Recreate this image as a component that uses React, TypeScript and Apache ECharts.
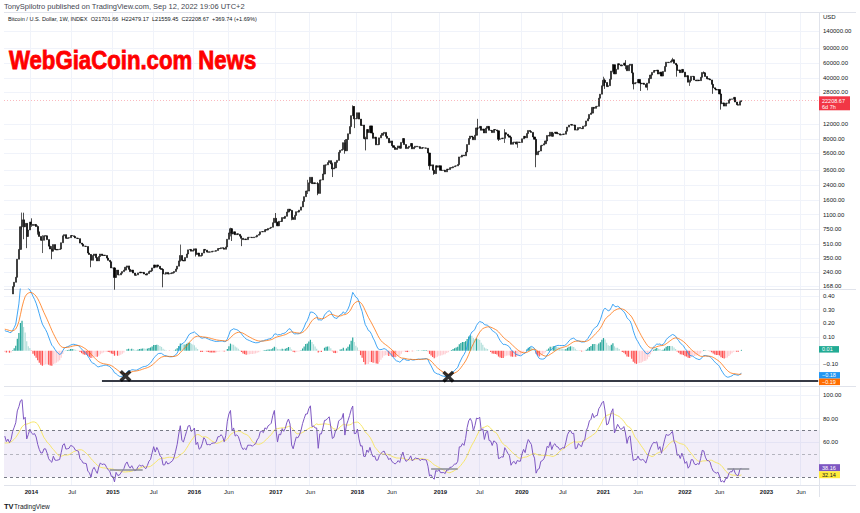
import React, { useEffect, useRef } from "react";
import * as echarts from "echarts";

// ---------- weekly closes (weeks start Monday), first week 2013-01-07 ----------
const FIRST_WEEK = "2013-01-07";
const VIEW_START = "2013-09-09";
const VIEW_END = "2023-08-21";

const CLOSE_2013 = [
  14.2, 15.7, 17.5, 20.4,
  23.7, 27.0, 29.8, 34.5,
  46.9, 47.0, 69.0, 93.0,
  162, 90, 120, 134, 112,
  115, 122, 131, 129,
  107, 101, 108, 95,
  76, 94, 90, 96, 105,
  106, 112, 120, 132,
  127, 136, 125, 133, 126,
  136, 165, 185, 211,
  340, 440, 800, 960,
  800, 875, 620, 735, 905,
];
const CLOSE_2014 = [
  850, 830, 850, 805,
  700, 620, 560, 560,
  630, 630, 570, 480, 445,
  420, 500, 440, 435,
  440, 445, 525, 630,
  650, 590, 595, 600, 635,
  630, 620, 595, 590,
  585, 520, 505, 480,
  478, 475, 400, 385, 330,
  375, 390, 355, 325,
  365, 390, 375, 378,
  375, 350, 330, 318, 270,
];
const CLOSE_2015 = [
  270, 210, 255, 225,
  225, 235, 245, 255,
  275, 285, 260, 245, 255,
  236, 222, 225, 237,
  242, 237, 240, 230,
  224, 233, 245, 250, 270,
  292, 275, 292, 282,
  265, 260, 230, 230, 240,
  230, 232, 235, 238,
  246, 262, 283, 325,
  375, 330, 325, 355, 390,
  435, 440, 420, 430,
];
const CLOSE_2016 = [
  447, 385, 400, 368,
  375, 400, 440, 432, 410,
  412, 410, 418, 420,
  420, 428, 450, 450,
  460, 455, 442, 470, 575,
  680, 760, 660, 700,
  650, 665, 655, 625,
  590, 570, 580, 570, 605,
  605, 605, 600, 610,
  615, 640, 655, 700, 705,
  700, 740, 735, 765,
  775, 790, 890, 1000,
];
const CLOSE_2017 = [
  905, 820, 925, 920, 1020,
  1000, 1055, 1180, 1270,
  1230, 1020, 970, 1080,
  1190, 1180, 1240, 1350,
  1560, 1770, 2050, 2050, 2550,
  2950, 2500, 2550, 2500,
  2500, 1930, 2750, 2750, 3220,
  4070, 4100, 4350, 4580,
  4200, 3680, 3780, 4380,
  4610, 5690, 6010, 6140, 7360,
  5950, 8000, 9300, 11250,
  15000, 19100, 13800, 13880,
];
const CLOSE_2018 = [
  16200, 13700, 11600, 11700, 8200,
  8100, 10400, 9600, 11450,
  9500, 8250, 8500, 6950,
  7000, 8350, 8950, 9400, 9650,
  8700, 8250, 7350, 7700,
  6800, 6500, 6150, 6380,
  6750, 6350, 7400, 8200, 7000,
  6300, 6500, 6700, 7200,
  6250, 6500, 6700, 6600,
  6600, 6300, 6450, 6400, 6400,
  6350, 5600, 4000, 4100,
  3550, 3250, 4000, 3850, 4000,
];
const CLOSE_2019 = [
  3550, 3540, 3550, 3410,
  3660, 3620, 3800, 3800,
  3900, 3980, 3990, 4130,
  5050, 5060, 5300, 5200, 5750,
  7000, 8200, 8750, 8550,
  7950, 8950, 10850, 10800,
  11300, 10200, 10550, 9500, 10800,
  11300, 10200, 10150, 9600,
  10400, 10300, 10050, 8050, 8150,
  8300, 8250, 9550, 9200,
  8800, 8500, 7050, 7400,
  7500, 7100, 7500, 7400, 7400,
];
const CLOSE_2020 = [
  8150, 8700, 8350, 9350,
  10150, 9900, 9650, 8550,
  8050, 5350, 5800, 5900, 6800,
  6900, 7150, 7700, 8900,
  8750, 9700, 8700, 9450,
  9700, 9350, 9300, 9000, 9100,
  9250, 9200, 9950, 11100,
  11700, 11900, 11650, 11700, 10250,
  10330, 10950, 10750, 10650,
  11350, 11500, 13050, 13800,
  15500, 16050, 18650, 18200, 19150,
  19200, 23800, 26450, 33000,
];
const CLOSE_2021 = [
  38200, 36000, 32300, 33100,
  39200, 48600, 57500, 45200,
  51000, 59000, 57300, 55800, 57000,
  60000, 56200, 49100, 56600,
  58300, 46400, 34700, 35700, 35800,
  39000, 35500, 34700, 35300,
  34250, 31800, 35400, 39900,
  43800, 47000, 49300, 48900, 49900,
  45000, 47300, 42700, 48200,
  54900, 61500, 60900, 61300,
  63300, 65500, 59700, 57300, 49400,
  50100, 46700, 50800, 47300,
];
const CLOSE_2022 = [
  41800, 43100, 36300, 37900, 42400,
  42200, 38400, 37700, 38400,
  37800, 41300, 46800, 46400,
  42200, 39700, 39500, 38500,
  34300, 31300, 30300, 29450, 29900,
  26600, 20550, 21000, 19300,
  20850, 20800, 22600, 23300,
  23200, 24300, 21500, 20050, 19800,
  21701.66, 22208.67,
];

// sparse week extremes [week, high, low]
const WICKS: [string, number, number][] = [
  ["2013-11-25", 1163, 740], ["2013-12-02", 1160, 576], ["2013-12-16", 880, 455],
  ["2014-01-06", 1000, 800], ["2014-02-03", 830, 650], ["2014-02-24", 640, 400],
  ["2014-04-07", 480, 340], ["2014-09-29", 390, 275], ["2015-01-12", 275, 152],
  ["2015-08-17", 262, 162], ["2015-11-02", 500, 320], ["2016-01-11", 450, 365],
  ["2016-06-13", 780, 620], ["2016-06-20", 770, 550], ["2016-08-01", 630, 480],
  ["2017-01-02", 1150, 880], ["2017-03-13", 1250, 950], ["2017-05-22", 2760, 1900],
  ["2017-07-10", 2600, 1840], ["2017-09-11", 4350, 2970], ["2017-11-06", 7900, 5500],
  ["2017-12-11", 19700, 15000], ["2017-12-18", 19300, 10800], ["2018-02-05", 8600, 6000],
  ["2018-11-19", 5100, 3600], ["2018-12-10", 3600, 3150], ["2019-06-24", 13800, 10300],
  ["2019-09-23", 10100, 7700], ["2019-10-21", 10500, 7300], ["2019-12-16", 7550, 6430],
  ["2020-03-09", 8000, 3850], ["2021-01-04", 41900, 33000], ["2021-01-11", 40000, 30400],
  ["2021-02-15", 58300, 47000], ["2021-04-12", 64900, 51000], ["2021-05-17", 43600, 30000],
  ["2021-06-21", 36000, 28800], ["2021-07-19", 35500, 29300], ["2021-11-08", 69000, 62300],
  ["2021-11-29", 59000, 42000], ["2022-01-24", 38900, 32900], ["2022-03-28", 48200, 45200],
  ["2022-05-09", 34200, 26700], ["2022-06-13", 26800, 17600], ["2022-09-12", 22479.17, 21559.45],
];

// ---------- axis ticks ----------
const PRICE_TICKS = [140000, 90000, 60000, 40000, 28000, 12000, 8000, 5600, 3600, 2400, 1600, 1100, 750, 510, 350, 240, 168];
const PRICE_RANGE = [154.9, 231200];
const MACD_TICKS = [0.4, 0.3, 0.2, 0.1, -0.1];
const MACD_RANGE = [-0.258, 0.451];
const RSI_TICKS = [100, 80, 60];
const RSI_RANGE = [23.4, 107.7];
const X_TICKS: [string, string][] = [
  ["2014-01-06", "2014"], ["2014-07-07", "Jul"], ["2015-01-05", "2015"], ["2015-07-06", "Jul"],
  ["2016-01-04", "2016"], ["2016-06-06", "Jun"], ["2017-01-02", "2017"], ["2017-06-05", "Jun"],
  ["2018-01-01", "2018"], ["2018-06-04", "Jun"], ["2019-01-07", "2019"], ["2019-07-01", "Jul"],
  ["2020-01-06", "2020"], ["2020-07-06", "Jul"], ["2021-01-04", "2021"], ["2021-06-07", "Jun"],
  ["2022-01-03", "2022"], ["2022-06-06", "Jun"], ["2023-01-02", "2023"], ["2023-06-05", "Jun"],
];

// ---------- last values & drawings ----------
const LAST_PRICE = 22208.67;
const COUNTDOWN = "6d 7h";
const LAST_HIST = 0.01;
const LAST_MACD = -0.18;
const LAST_SIGNAL = -0.19;
const LAST_RSI = 38.16;
const LAST_RSI_MA = 32.14;
const SUPPORT_LEVEL = -0.218;
const SUPPORT_START = "2014-11-17";
const X_MARKS: [string, number][] = [["2015-03-02", -0.185], ["2019-02-11", -0.19]];
const RSI_SEGMENTS: [string, string, number][] = [
  ["2014-12-22", "2015-05-18", 36.5],
  ["2018-11-26", "2019-03-25", 37],
  ["2022-07-11", "2022-10-17", 37],
];

const HEADER_1 = "TonySpilotro published on TradingView.com, Sep 12, 2022 19:06 UTC+2";
const HEADER_2 = "Bitcoin / U.S. Dollar, 1W, INDEX  O21701.66  H22479.17  L21559.45  C22208.67  +369.74 (+1.69%)";
const WATERMARK = "WebGiaCoin.com News";

const FONT = "'Liberation Sans', Arial, sans-serif";
const TXT = "#131722";
const GRID = "#f0f3fa";
const SEP = "#e0e3eb";

// ---------- helpers ----------
const DAY = 86400000;
const toMs = (s: string) => Date.UTC(+s.slice(0, 4), +s.slice(5, 7) - 1, +s.slice(8, 10));
const fmt = (ms: number) => new Date(ms).toISOString().slice(0, 10);

function ema(src: number[], len: number) {
  const a = 2 / (len + 1);
  const out: number[] = [];
  src.forEach((v, i) => out.push(i === 0 ? v : a * v + (1 - a) * out[i - 1]));
  return out;
}

function buildOption() {
  const closes = [
    ...CLOSE_2013, ...CLOSE_2014, ...CLOSE_2015, ...CLOSE_2016, ...CLOSE_2017,
    ...CLOSE_2018, ...CLOSE_2019, ...CLOSE_2020, ...CLOSE_2021, ...CLOSE_2022,
  ];
  const n = closes.length;
  const weeks = closes.map((_, i) => fmt(toMs(FIRST_WEEK) + i * 7 * DAY));
  const cats: string[] = [];
  for (let t = toMs(VIEW_START); t <= toMs(VIEW_END); t += 7 * DAY) cats.push(fmt(t));
  const s = weeks.indexOf(VIEW_START);

  const wick = new Map(WICKS.map((w) => [w[0], w]));
  const candles = closes.map((c, i) => {
    const o = i === 0 ? c : closes[i - 1];
    const w = wick.get(weeks[i]);
    const hi = Math.max(o, c, w ? w[1] : 0);
    const lo = Math.min(o, c, w ? w[2] : Infinity);
    return [Math.log(o), Math.log(c), Math.log(lo), Math.log(hi)];
  });

  // MACD as a fraction of the slow EMA (12, 26, 9)
  const e12 = ema(closes, 12);
  const e26 = ema(closes, 26);
  const macd = e12.map((v, i) => v / e26[i] - 1);
  const signal = ema(macd, 9);
  const hist = macd.map((v, i) => v - signal[i]);

  const rsi: number[] = new Array(n).fill(NaN);
  let ag = 0, al = 0;
  for (let i = 1; i <= 14; i++) {
    const d = closes[i] - closes[i - 1];
    ag += Math.max(d, 0); al += Math.max(-d, 0);
  }
  ag /= 14; al /= 14;
  rsi[14] = al === 0 ? 100 : 100 - 100 / (1 + ag / al);
  for (let i = 15; i < n; i++) {
    const d = closes[i] - closes[i - 1];
    ag = (ag * 13 + Math.max(d, 0)) / 14;
    al = (al * 13 + Math.max(-d, 0)) / 14;
    rsi[i] = al === 0 ? 100 : 100 - 100 / (1 + ag / al);
  }
  const rsiMa: number[] = new Array(n).fill(NaN);
  for (let i = 27; i < n; i++) {
    let sum = 0;
    for (let k = i - 13; k <= i; k++) sum += rsi[k];
    rsiMa[i] = sum / 14;
  }

  const histData = hist.slice(s).map((h, k) => {
    const p = hist[s + k - 1];
    const color = h >= 0 ? (h > p ? "#26A69A" : "#B2DFDB") : (h < p ? "#FF5252" : "#FFCDD2");
    return { value: h, itemStyle: { color } };
  });

  const xMap = new Map(X_TICKS);
  const tickFn = (_i: number, v: string) => xMap.has(v);
  const mkX = (gi: number, showLabel: boolean) => ({
    type: "category",
    gridIndex: gi,
    data: cats,
    boundaryGap: true,
    axisLine: { show: false },
    axisTick: { show: false },
    splitLine: { show: true, interval: tickFn, lineStyle: { color: GRID, width: 1 } },
    axisLabel: {
      show: showLabel,
      interval: tickFn,
      margin: 4,
      formatter: (v: string) => {
        const t = xMap.get(v) || "";
        return /^\d{4}$/.test(t) ? `{y|${t}}` : `{m|${t}}`;
      },
      rich: {
        y: { fontSize: 6, fontWeight: "bold", color: TXT, fontFamily: FONT },
        m: { fontSize: 6, color: TXT, fontFamily: FONT },
      },
    },
  });
  const yLabel = (ticks: number[], f: (v: number) => string) => ({
    customValues: ticks,
    formatter: f,
    color: TXT,
    fontSize: 6,
    fontFamily: FONT,
    margin: 4,
    align: "left",
  });
  const signed = (v: number) => (v < 0 ? "\u2212" : "") + Math.abs(v).toFixed(2);
  const yBase = (gi: number) => ({
    type: "value",
    gridIndex: gi,
    position: "right",
    axisLine: { show: false },
    splitLine: { show: true, lineStyle: { color: GRID, width: 1 } },
  });

  const priceTicksLn = PRICE_TICKS.map(Math.log);

  return {
    animation: false,
    backgroundColor: "#ffffff",
    grid: [
      { left: 4, right: 41, top: 12, height: 277, outerBoundsMode: "none", containLabel: false },
      { left: 4, right: 41, top: 289, height: 97, outerBoundsMode: "none", containLabel: false },
      { left: 4, right: 41, top: 386, height: 99, outerBoundsMode: "none", containLabel: false },
    ],
    xAxis: [mkX(0, false), mkX(1, false), mkX(2, true)],
    yAxis: [
      {
        ...yBase(0),
        min: Math.log(PRICE_RANGE[0]),
        max: Math.log(PRICE_RANGE[1]),
        axisTick: { show: false, customValues: priceTicksLn },
        axisLabel: yLabel(priceTicksLn, (v: number) => Math.round(Math.exp(v)).toFixed(2)),
      },
      {
        ...yBase(1),
        min: MACD_RANGE[0],
        max: MACD_RANGE[1],
        axisTick: { show: false, customValues: MACD_TICKS },
        axisLabel: yLabel(MACD_TICKS, signed),
      },
      {
        ...yBase(2),
        min: RSI_RANGE[0],
        max: RSI_RANGE[1],
        axisTick: { show: false, customValues: RSI_TICKS },
        axisLabel: yLabel(RSI_TICKS, (v: number) => v.toFixed(2)),
      },
    ],
    series: [
      {
        type: "candlestick",
        xAxisIndex: 0,
        yAxisIndex: 0,
        data: candles.slice(s),
        clip: true,
        barWidth: 1.6,
        itemStyle: { color: "#3a3a3a", color0: "#000000", borderColor: "#1a1a1a", borderColor0: "#000000", borderWidth: 0.7 },
        markLine: {
          silent: true,
          symbol: ["none", "none"],
          label: { show: false },
          lineStyle: { color: "#F23645", type: [1, 2], width: 1, opacity: 0.35 },
          data: [{ yAxis: Math.log(LAST_PRICE) }],
        },
      },
      {
        type: "bar",
        xAxisIndex: 1,
        yAxisIndex: 1,
        data: histData,
        barWidth: 1.2,
        z: 1,
      },
      {
        type: "line",
        xAxisIndex: 1,
        yAxisIndex: 1,
        data: macd.slice(s),
        symbol: "none",
        lineStyle: { color: "#2196F3", width: 1, opacity: 0.85 },
        z: 3,
        markLine: {
          silent: true,
          symbol: ["none", "none"],
          label: { show: false },
          lineStyle: { color: "#363a45", type: "solid", width: 2 },
          data: [[{ coord: [SUPPORT_START, SUPPORT_LEVEL] }, { coord: [VIEW_END, SUPPORT_LEVEL] }]],
        },
      },
      {
        type: "line",
        xAxisIndex: 1,
        yAxisIndex: 1,
        data: signal.slice(s),
        symbol: "none",
        lineStyle: { color: "#FF6D00", width: 1, opacity: 0.75 },
        z: 3,
      },
      {
        type: "scatter",
        xAxisIndex: 1,
        yAxisIndex: 1,
        data: X_MARKS,
        symbol: "path://M2,0 L5,3 L8,0 L10,2 L7,5 L10,8 L8,10 L5,7 L2,10 L0,8 L3,5 L0,2 Z",
        symbolSize: 12,
        itemStyle: { color: "#000000" },
        z: 6,
      },
      {
        type: "line",
        xAxisIndex: 2,
        yAxisIndex: 2,
        data: rsi.slice(s),
        symbol: "none",
        lineStyle: { color: "#7E57C2", width: 1 },
        z: 3,
        markArea: {
          silent: true,
          itemStyle: { color: "rgba(126,87,194,0.1)" },
          data: [[{ yAxis: 30 }, { yAxis: 70 }]],
        },
        markLine: {
          silent: true,
          symbol: ["none", "none"],
          label: { show: false },
          data: [
            { yAxis: 70, lineStyle: { color: "#787B86", type: [3, 3], width: 1 } },
            { yAxis: 50, lineStyle: { color: "#787B86", type: [3, 3], width: 1, opacity: 0.5 } },
            { yAxis: 30, lineStyle: { color: "#787B86", type: [3, 3], width: 1 } },
            ...RSI_SEGMENTS.map(([a, b, v]) => [
              { coord: [a, v], lineStyle: { color: "#8a8d96", type: "solid", width: 1.5 } },
              { coord: [b, v] },
            ]),
          ],
        },
      },
      {
        type: "line",
        xAxisIndex: 2,
        yAxisIndex: 2,
        data: rsiMa.slice(s),
        symbol: "none",
        lineStyle: { color: "#F7E66B", width: 1 },
        z: 2,
      },
    ],
  };
}

export default function App() {
  const ref = useRef<HTMLDivElement>(null);
  useEffect(() => {
    const chart = echarts.init(ref.current as HTMLDivElement, undefined, { renderer: "svg", width: 860, height: 513 });
    chart.setOption(buildOption() as any);

    const py = (axis: number, v: number) => chart.convertToPixel({ yAxisIndex: axis }, v) as number;
    const hline = (y: number) => ({ type: "line", silent: true, shape: { x1: 4, y1: y, x2: 856, y2: y }, style: { stroke: SEP, lineWidth: 1 } });
    const text = (x: number, y: number, t: string, size: number, fill: string, weight = "normal", family = FONT) => ({
      type: "text", silent: true, x, y,
      style: { text: t, fill, fontSize: size, fontWeight: weight, fontFamily: family, verticalAlign: "middle", align: "left" },
    });
    const box = (yc: number, w: number, h: number, fill: string, label: string, tc: string) => [
      { type: "rect", silent: true, shape: { x: 819, y: yc - h / 2, width: w, height: h }, style: { fill } },
      text(822, yc, label, 5.5, tc),
    ];

    const yPrice = py(0, Math.log(LAST_PRICE));
    const yHist = py(1, LAST_HIST);
    const yMacd = py(1, LAST_MACD);
    const ySig = Math.max(py(1, LAST_SIGNAL), yMacd + 6.5);
    const yRsi = py(2, LAST_RSI);
    const yRsiMa = Math.max(py(2, LAST_RSI_MA), yRsi + 7);

    const graphics: any[] = [
      hline(12.5), hline(289.5), hline(386.5), hline(485.5),
      { type: "line", silent: true, shape: { x1: 819.5, y1: 12, x2: 819.5, y2: 497 }, style: { stroke: SEP, lineWidth: 1 } },
      text(4, 6, HEADER_1, 7.5, "#434651"),
      text(8, 18.5, HEADER_2, 5.6, TXT),
      text(823, 17, "USD", 6, TXT),
      {
        type: "text", silent: true, x: 9, y: 60, scaleX: 0.87,
        style: {
          text: WATERMARK, fill: "#ff0000", stroke: "#ff0000", lineWidth: 0.8,
          fontSize: 25.5, fontWeight: "bold", fontFamily: FONT, verticalAlign: "middle", align: "left",
        },
      },
      text(4, 506, "TV", 7.5, TXT, "bold"),
      text(14, 506, "TradingView", 6.5, TXT),
      { type: "rect", silent: true, shape: { x: 819, y: yPrice - 4.5, width: 31, height: 14 }, style: { fill: "#F23645" } },
      text(822, yPrice, LAST_PRICE.toFixed(2), 5.5, "#ffffff"),
      text(822, yPrice + 6.5, COUNTDOWN, 5.5, "#ffffff"),
      ...box(yHist, 20, 6.5, "#22AB94", LAST_HIST.toFixed(2), "#ffffff"),
      ...box(yMacd, 21, 6.5, "#2196F3", "\u2212" + Math.abs(LAST_MACD).toFixed(2), "#ffffff"),
      ...box(ySig, 21, 6.5, "#FF6D00", "\u2212" + Math.abs(LAST_SIGNAL).toFixed(2), "#ffffff"),
      ...box(yRsi, 21, 7, "#7E57C2", LAST_RSI.toFixed(2), "#ffffff"),
      ...box(yRsiMa, 21, 7, "#FFEB3B", LAST_RSI_MA.toFixed(2), TXT),
    ];
    chart.setOption({ graphic: graphics });
    return () => chart.dispose();
  }, []);
  return (
    <div
      ref={ref}
      style={{ position: "fixed", left: 0, top: 0, width: 860, height: 513, background: "#ffffff" }}
    />
  );
}
